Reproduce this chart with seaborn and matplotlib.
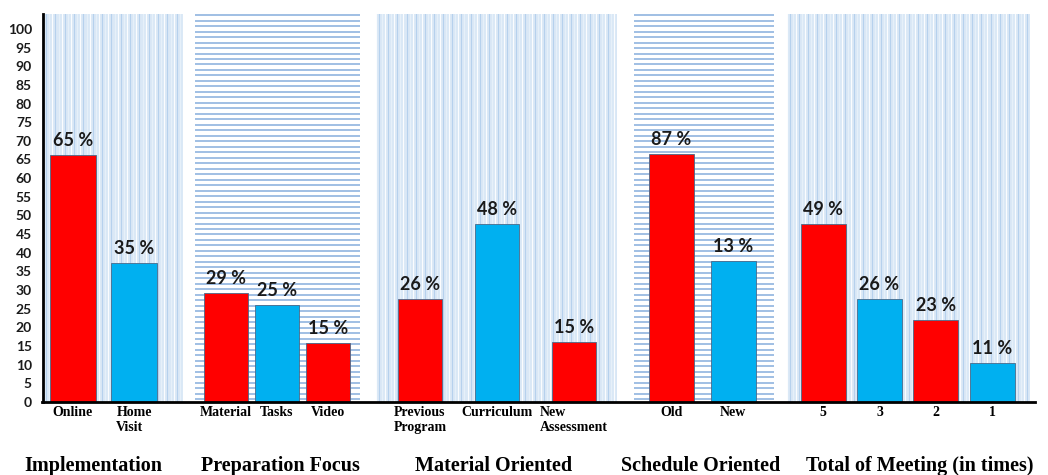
import numpy as np
import matplotlib
matplotlib.use("Agg")
import matplotlib.pyplot as plt
import seaborn as sns
from matplotlib.lines import Line2D

# data (bar heights on the axis scale, printed labels as shown)
groups = ["Implementation", "Preparation Focus", "Material Oriented",
          "Schedule Oriented", "Total of Meeting (in times)"]

impl_cats = ["Online", "Home\nVisit"]
impl_vals = [66.1, 37.2]
impl_labels = ["65 %", "35 %"]

prep_cats = ["Material", "Tasks", "Video"]
prep_vals = [29.3, 26.1, 15.9]
prep_labels = ["29 %", "25 %", "15 %"]

mat_cats = ["Previous\nProgram", "Curriculum", "New\nAssessment"]
mat_vals = [27.7, 47.6, 16.1]
mat_labels = ["26 %", "48 %", "15 %"]

sched_cats = ["Old", "New"]
sched_vals = [66.5, 37.8]
sched_labels = ["87 %", "13 %"]

meet_cats = ["5", "3", "2", "1"]
meet_vals = [47.6, 27.7, 22.0, 10.5]
meet_labels = ["49 %", "26 %", "23 %", "11 %"]

RED = "#ff0000"
BLUE = "#00b0f0"

W, H = 1048, 475
fig = plt.figure(figsize=(W / 100, H / 100), dpi=100)

def px_axes(x0, x1, y_top=14, y_bot=402):
    return fig.add_axes([x0 / W, 1 - y_bot / H, (x1 - x0) / W, (y_bot - y_top) / H])

# panel layout: pixel span, xlim, bar width, background style, title x (px)
panels = [
    (impl_cats, impl_vals, impl_labels, (43, 183), (-0.49, 1.80), 0.75, "v", 93),
    (prep_cats, prep_vals, prep_labels, (195, 360), (-0.61, 2.63), 0.86, "h", 280),
    (mat_cats, mat_vals, mat_labels, (376, 617), (-0.57, 2.56), 0.58, "v", 494),
    (sched_cats, sched_vals, sched_labels, (634, 774), (-0.60, 1.66), 0.73, "h", 701),
    (meet_cats, meet_vals, meet_labels, (787, 1030), (-0.64, 3.67), 0.80, "v", 920),
]

ymax = 104
for k, (cats, vals, labels, (x0, x1), xlim, bw, style, tx) in enumerate(panels):
    ax = px_axes(x0, x1)
    colors = [RED if i % 2 == 0 else BLUE for i in range(len(cats))]
    sns.barplot(x=cats, y=vals, hue=cats, palette=colors, legend=False,
                width=bw, ax=ax, edgecolor="#4a6a8a", linewidth=0.6,
                saturation=1, zorder=3)
    ax.set_xlim(*xlim)
    ax.set_ylim(0, ymax)

    # background texture
    if style == "v":
        ax.set_facecolor("#dae8f6")
        xs = np.linspace(xlim[0], xlim[1], int((x1 - x0) / 3))
        for j, xv in enumerate(xs):
            ax.axvline(xv, color=["white", "#b3cfec", "#e8f1fa"][j % 3],
                       lw=0.8, alpha=0.9, zorder=1)
    else:
        ax.set_facecolor("white")
        for yv in np.arange(0.8, ymax, 1.47):
            ax.axhline(yv, color="#86aedd", lw=1.1, zorder=1)

    for i, (v, lab) in enumerate(zip(vals, labels)):
        ax.text(i, v + 1.6, lab, ha="center", va="bottom", fontsize=13,
                fontweight="bold", family="Lato", color="#1a1a1a", zorder=4)

    ax.tick_params(axis="x", length=0, pad=3)
    for t in ax.get_xticklabels():
        t.set_fontfamily("Liberation Serif")
        t.set_fontweight("bold")
        t.set_fontsize(10)
        t.set_verticalalignment("top")
        t.set_multialignment("left")
    ax.set_xlabel("")
    ax.set_ylabel("")
    for s in ["top", "right", "bottom"]:
        ax.spines[s].set_visible(False)
    if k == 0:
        ax.spines["left"].set_linewidth(2)
        ax.spines["left"].set_color("black")
        ax.set_yticks(range(0, 101, 5))
        ax.tick_params(axis="y", length=0, pad=8, labelsize=10)
        for t in ax.get_yticklabels():
            t.set_fontfamily("Lato")
            t.set_fontweight("bold")
            t.set_color("#1a1a1a")
    else:
        ax.spines["left"].set_visible(False)
        ax.set_yticks([])

    fig.text(tx / W, 1 - 466 / H, groups[k], ha="center", va="center",
             fontsize=14.5, fontweight="bold", family="Liberation Serif")

# continuous baseline across all panels
fig.add_artist(Line2D([42 / W, 1035 / W], [1 - 402 / H, 1 - 402 / H],
                      color="black", lw=2, transform=fig.transFigure))

fig.savefig("out.png", dpi=100)
